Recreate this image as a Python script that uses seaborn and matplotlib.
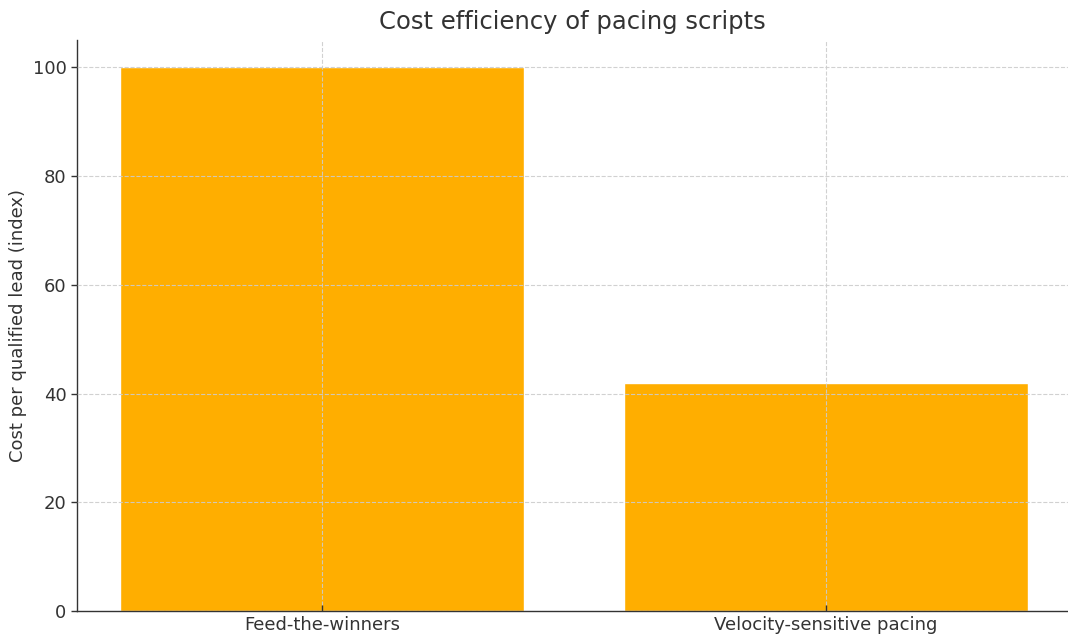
import matplotlib
matplotlib.use("Agg")
import matplotlib.pyplot as plt
import seaborn as sns
import pandas as pd

categories = ["Feed-the-winners", "Velocity-sensitive pacing"]
values = [100, 42]

sns.set_theme(style="white")
plt.rcParams['font.family'] = ['DejaVu Sans']

df = pd.DataFrame({"cat": categories, "val": values})

fig = plt.figure(figsize=(10.68, 6.37), dpi=100)
ax = fig.add_axes([0.0721, 0.0408, 0.928, 0.896])
sns.barplot(data=df, x="cat", y="val", color="#FFAE00", saturation=1, width=0.8, ax=ax)
ax.set_xlim(-0.486, 1.480)
ax.set_ylim(0, 105)
ax.set_axisbelow(False)
ax.grid(True, linestyle="--", color="#cccccc", linewidth=0.8, alpha=0.9)
for s in ["top", "right"]:
    ax.spines[s].set_visible(False)
for s in ["left", "bottom"]:
    ax.spines[s].set_color("#333333")
    ax.spines[s].set_linewidth(1.0)
ax.set_xlabel("")
ax.set_ylabel("Cost per qualified lead (index)", fontsize=13, color="#333333")
ax.set_title("Cost efficiency of pacing scripts", fontsize=17.5, color="#333333", pad=8)
ax.tick_params(axis="both", labelsize=13, labelcolor="#333333", colors="#333333",
               length=4, width=1, left=True, bottom=True)
ax.tick_params(axis="x", direction="in")
ax.set_yticks([0, 20, 40, 60, 80, 100])
fig.savefig("out.png", dpi=100)
